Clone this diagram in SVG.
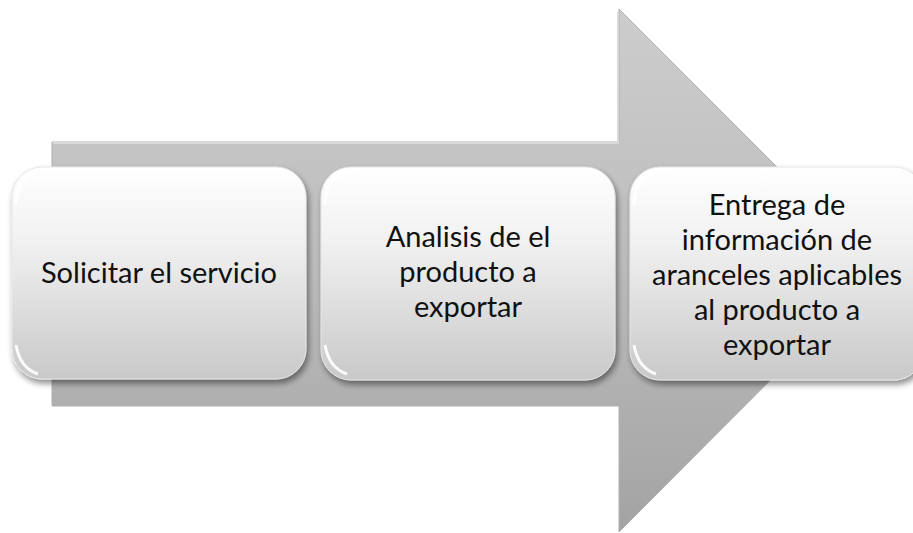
<svg xmlns="http://www.w3.org/2000/svg" width="913" height="533" viewBox="0 0 913 533">
<defs>
<linearGradient id="arrowGrad" x1="0" y1="0" x2="0" y2="1">
<stop offset="0" stop-color="#cdcdcd"/>
<stop offset="0.5" stop-color="#bcbcbc"/>
<stop offset="1" stop-color="#a3a3a3"/>
</linearGradient>
<linearGradient id="boxGrad" x1="0" y1="0" x2="0" y2="1">
<stop offset="0" stop-color="#ffffff"/>
<stop offset="0.35" stop-color="#f1f1f1"/>
<stop offset="1" stop-color="#c9c9c9"/>
</linearGradient>
<filter id="shadow" x="-10%" y="-10%" width="125%" height="130%">
<feGaussianBlur in="SourceAlpha" stdDeviation="3"/>
<feOffset dx="2" dy="4"/>
<feComponentTransfer><feFuncA type="linear" slope="0.45"/></feComponentTransfer>
<feMerge><feMergeNode/><feMergeNode in="SourceGraphic"/></feMerge>
</filter>
</defs>
<style>
.box{fill:url(#boxGrad);stroke:#e6e6e6;stroke-width:1;filter:url(#shadow)}
.hl{fill:none;stroke:#ffffff;stroke-width:3;stroke-opacity:0.9}
.lbl{font-family:Lato,"Liberation Sans",sans-serif;font-size:29px;fill:#111111;text-anchor:middle}
</style>
<g id="arrow">
<path d="M52,142 L619,142 L619,9 L880,270 L619,532 L619,406 L52,406 Z" fill="url(#arrowGrad)" stroke="#b0b0b0" stroke-width="1"/>
<path d="M53,143 L618,143 L618,12" fill="none" stroke="#d9d9d9" stroke-width="2"/>
</g>
<g id="node1">
<rect class="box" x="12" y="167" width="294" height="212" rx="30" ry="30"/>
<path class="hl" d="M16,205 Q16,172 48,170" stroke-width="2"/>
<path class="hl" d="M16,345 Q20,368 38,374"/>
<text class="lbl" x="159" y="283">Solicitar el servicio</text>
</g>
<g id="node2">
<rect class="box" x="321" y="167" width="294" height="213" rx="30" ry="30"/>
<path class="hl" d="M325,205 Q325,172 357,170" stroke-width="2"/>
<path class="hl" d="M325,345 Q329,368 347,374"/>
<text class="lbl" x="468" y="247">Analisis de el</text>
<text class="lbl" x="468" y="282">producto a</text>
<text class="lbl" x="468" y="317">exportar</text>
</g>
<g id="node3">
<rect class="box" x="630" y="167" width="294" height="213" rx="30" ry="30"/>
<path class="hl" d="M634,205 Q634,172 666,170" stroke-width="2"/>
<path class="hl" d="M634,345 Q638,368 656,374"/>
<text class="lbl" x="777" y="215">Entrega de</text>
<text class="lbl" x="777" y="250">información de</text>
<text class="lbl" x="777" y="285">aranceles aplicables</text>
<text class="lbl" x="777" y="320">al producto a</text>
<text class="lbl" x="777" y="355">exportar</text>
</g>
<g id="connectors"></g>
</svg>
